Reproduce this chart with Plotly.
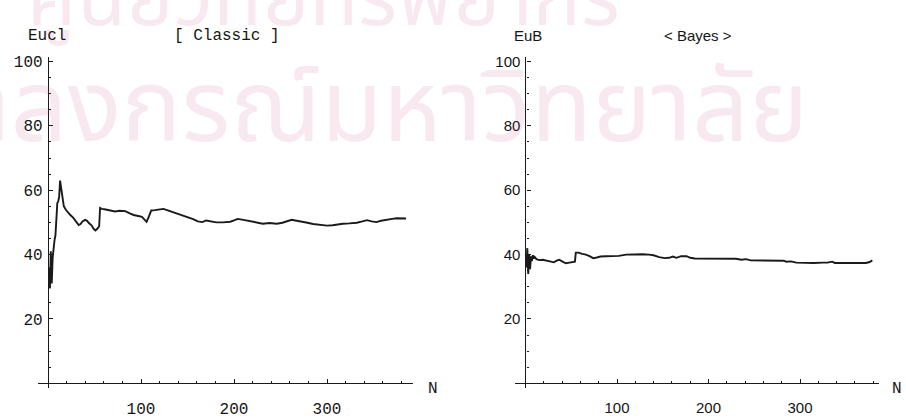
import plotly.graph_objects as go

# Classic estimator (Eucl) versus sample size N
classic_n = [1, 2, 3, 4, 5, 6, 7, 8, 9, 10, 11, 12, 13, 14, 15, 16, 17, 19, 21, 24,
             27, 30, 33, 35, 37, 40, 42, 44, 47, 49, 51, 53, 55, 56, 58, 62, 67, 72,
             77, 83, 88, 92, 97, 101, 104, 106, 108, 111, 115, 120, 124, 128, 132,
             136, 140, 145, 150, 156, 161, 166, 170, 176, 181, 188, 196, 200, 204,
             210, 217, 224, 231, 238, 246, 252, 257, 262, 266, 273, 279, 285, 292,
             300, 306, 312, 317, 324, 332, 338, 343, 348, 353, 358, 364, 370, 375,
             380, 385]
classic_val = [36, 29.5, 41, 31, 39, 43.5, 44.5, 46, 52, 56, 56.5, 58, 63, 60.5, 59,
               56, 55, 54, 53.2, 52.3, 51.5, 50.2, 49.2, 49.5, 50.3, 50.8, 50.5, 49.8,
               49.0, 48.0, 47.5, 48.0, 48.8, 54.5, 54.2, 54.0, 53.8, 53.4, 53.6, 53.5,
               52.8, 52.3, 52.0, 51.7, 50.8, 50.2, 51.5, 53.7, 53.8, 53.9, 54.2, 53.8,
               53.4, 53.0, 52.6, 52.3, 51.8, 51.0, 50.3, 50.1, 50.6, 50.3, 50.0, 50.0,
               50.2, 50.6, 51.1, 50.8, 50.4, 49.9, 49.6, 49.8, 49.6, 49.9, 50.3, 50.8,
               50.6, 50.3, 49.9, 49.5, 49.3, 49.0, 49.1, 49.4, 49.6, 49.7, 49.9, 50.3,
               50.7, 50.3, 50.1, 50.5, 50.9, 51.1, 51.3, 51.3, 51.2]

# Bayes estimator (EuB) versus sample size N
bayes_n = [1, 2, 3, 4, 5, 6, 7, 8, 9, 10, 12, 15, 19, 23, 27, 31, 34, 37, 40, 44,
           48, 52, 54, 55, 58, 62, 66, 70, 74, 78, 82, 88, 95, 102, 110, 120, 128,
           135, 140, 146, 152, 157, 161, 165, 170, 176, 180, 185, 200, 215, 230, 236,
           241, 246, 260, 275, 282, 285, 290, 296, 305, 315, 325, 330, 335, 338, 350,
           362, 372, 376, 379]
bayes_val = [36, 42, 34, 40, 35.5, 39.5, 38, 39.8, 38.8, 39.3, 38.6, 38.3, 38.4,
             38.1, 37.9, 37.6, 38.1, 38.4, 37.9, 37.3, 37.5, 37.6, 37.8, 40.6, 40.6,
             40.2, 40.0, 39.5, 38.9, 39.1, 39.4, 39.5, 39.5, 39.6, 40.0, 40.1, 40.1,
             40.0, 39.8, 39.2, 38.9, 39.0, 39.4, 39.0, 39.5, 39.5, 39.0, 38.8, 38.8,
             38.8, 38.7, 38.4, 38.6, 38.2, 38.2, 38.1, 38.1, 37.8, 37.9, 37.5, 37.4,
             37.4, 37.5, 37.5, 37.8, 37.4, 37.4, 37.4, 37.4, 37.7, 38.2]

x_ticks = [100, 200, 300]
y_ticks = [20, 40, 60, 80, 100]

W, H = 906, 420
INK = "#1a1a1a"
TEXT = "#151515"
MONO = "Liberation Mono, Courier New, monospace"
SANS = "Liberation Sans, Arial, sans-serif"

# panel geometry (paper fractions) and axis ranges
y_dom = [0.0764, 0.8736]
y_rng = [-1.5, 101.5]
panels = [
    dict(xdom=[0.0417, 0.4554], xrng=[-11, 392], font=MONO, n=classic_n, v=classic_val),
    dict(xdom=[0.5689, 0.9699], xrng=[-11, 386], font=SANS, n=bayes_n, v=bayes_val),
]


def frac(dom, rng, value):
    return dom[0] + (value - rng[0]) / (rng[1] - rng[0]) * (dom[1] - dom[0])


fig = go.Figure()
layout = dict(
    width=W, height=H, margin=dict(l=0, r=0, t=0, b=0),
    paper_bgcolor="white", plot_bgcolor="rgba(0,0,0,0)", showlegend=False,
)

for i, p in enumerate(panels, start=1):
    xa = "xaxis" if i == 1 else f"xaxis{i}"
    ya = "yaxis" if i == 1 else f"yaxis{i}"
    xref = "x" if i == 1 else f"x{i}"
    yref = "y" if i == 1 else f"y{i}"
    fig.add_trace(go.Scatter(
        x=p["n"], y=p["v"], mode="lines", xaxis=xref, yaxis=yref,
        line=dict(color=INK, width=1.9), hoverinfo="skip",
    ))
    tickfont = dict(family=p["font"], size=16 if i == 1 else 15, color=TEXT)
    layout[xa] = dict(
        domain=p["xdom"], range=p["xrng"], anchor="free",
        position=frac(y_dom, y_rng, 0), showgrid=False, zeroline=False,
        showline=True, linecolor=INK, linewidth=1.3,
        ticks="inside", ticklen=4, tickcolor=INK, tickwidth=1,
        tickvals=x_ticks, ticklabelstandoff=10, tickfont=tickfont,
        minor=dict(ticks="inside", ticklen=2, dtick=20, tickcolor=INK, tick0=0),
        fixedrange=True,
    )
    layout[ya] = dict(
        domain=y_dom, range=y_rng, anchor="free",
        position=frac(p["xdom"], p["xrng"], 0), showgrid=False, zeroline=False,
        showline=True, linecolor=INK, linewidth=1.3,
        ticks="inside", ticklen=4, tickcolor=INK, tickwidth=1,
        tickvals=y_ticks, ticklabelstandoff=2, tickfont=tickfont,
        minor=dict(ticks="inside", ticklen=2, dtick=5, tickcolor=INK, tick0=0),
        fixedrange=True,
    )

fig.update_layout(**layout)

WATER = "rgba(195,62,128,0.12)"
THAI = "Noto Sans Thai, Noto Sans, Loma, Garuda, sans-serif"


def px(x, y):
    return x / W, 1 - y / H


annotations = []
# faint institutional watermark behind the panels
for text, x, y, size, anchor in [
    ("ศูนย์วิทยทรัพยากร", 25, -4, 80, "left"),
    ("จุฬาลงกรณ์มหาวิทยาลัย", 810, 108, 100, "right"),
]:
    ax_, ay_ = px(x, y)
    annotations.append(dict(
        text=text, x=ax_, y=ay_, xref="paper", yref="paper", showarrow=False,
        xanchor=anchor, yanchor="middle",
        font=dict(family=THAI, size=size, color=WATER),
    ))

labels = [
    ("Eucl", 47, 32, MONO, 16),
    ("[ Classic ]", 227, 32, MONO, 16),
    ("N", 433, 389, MONO, 16),
    ("EuB", 528, 32, SANS, 15),
    ("< Bayes >", 698, 32, SANS, 15),
    ("N", 897, 389, MONO, 16),
]
for text, x, y, fam, size in labels:
    ax_, ay_ = px(x, y)
    annotations.append(dict(
        text=text, x=ax_, y=ay_, xref="paper", yref="paper", showarrow=False,
        xanchor="center", yanchor="middle",
        font=dict(family=fam, size=size, color=TEXT),
    ))

fig.update_layout(annotations=annotations)
fig.write_html("out.html")
